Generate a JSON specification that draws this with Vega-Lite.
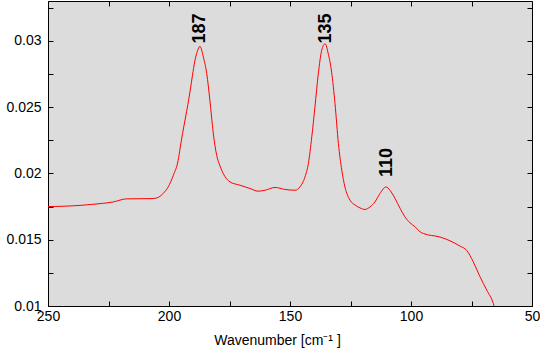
{
  "$schema": "https://vega.github.io/schema/vega-lite/v6.json",
  "autosize": "none",
  "padding": {"left": 48, "top": 1, "right": 8, "bottom": 47},
  "width": 484,
  "height": 305,
  "background": "white",
  "config": {
    "view": {"fill": "#dcdcdc", "stroke": "black", "strokeWidth": 1},
    "axis": {
      "domain": false,
      "grid": false,
      "ticks": true,
      "tickSize": -5,
      "tickColor": "black",
      "tickWidth": 1,
      "labelFont": "Liberation Sans",
      "labelFontSize": 14,
      "labelColor": "black",
      "labelFlush": false,
      "labelOverlap": false,
      "titleFont": "Liberation Sans",
      "titleFontSize": 14,
      "titleFontWeight": "normal",
      "titleColor": "black"
    }
  },
  "datasets": {
    "spectrum": [
      {"w": 250, "v": 0.0175},
      {"w": 240, "v": 0.01755},
      {"w": 232, "v": 0.01766},
      {"w": 223, "v": 0.01785},
      {"w": 217.5, "v": 0.01808},
      {"w": 207, "v": 0.0181},
      {"w": 205, "v": 0.01815},
      {"w": 202.4, "v": 0.01849},
      {"w": 200.3, "v": 0.01899},
      {"w": 198.2, "v": 0.01986},
      {"w": 196.2, "v": 0.021},
      {"w": 195.4, "v": 0.0219},
      {"w": 194.4, "v": 0.023},
      {"w": 193.3, "v": 0.0241},
      {"w": 192.2, "v": 0.0252},
      {"w": 191.2, "v": 0.0263},
      {"w": 190.3, "v": 0.0274},
      {"w": 189.4, "v": 0.0284},
      {"w": 188.3, "v": 0.0292},
      {"w": 187.2, "v": 0.02958},
      {"w": 185.8, "v": 0.02877},
      {"w": 184.4, "v": 0.02752},
      {"w": 183.1, "v": 0.02551},
      {"w": 181.7, "v": 0.02303},
      {"w": 180.3, "v": 0.02137},
      {"w": 178.9, "v": 0.02055},
      {"w": 177.6, "v": 0.01999},
      {"w": 174.8, "v": 0.01936},
      {"w": 170.7, "v": 0.01911},
      {"w": 166.5, "v": 0.01886},
      {"w": 163.2, "v": 0.01866},
      {"w": 160.3, "v": 0.01873},
      {"w": 156.2, "v": 0.01894},
      {"w": 152.1, "v": 0.01879},
      {"w": 147.9, "v": 0.01873},
      {"w": 145.9, "v": 0.01898},
      {"w": 143.8, "v": 0.01974},
      {"w": 142.4, "v": 0.02075},
      {"w": 141, "v": 0.02275},
      {"w": 139.7, "v": 0.025},
      {"w": 138.3, "v": 0.02752},
      {"w": 136.9, "v": 0.02928},
      {"w": 135.5, "v": 0.02978},
      {"w": 134.2, "v": 0.02903},
      {"w": 132.8, "v": 0.02764},
      {"w": 131.4, "v": 0.02526},
      {"w": 130, "v": 0.02225},
      {"w": 128.6, "v": 0.02024},
      {"w": 127.3, "v": 0.01898},
      {"w": 125.2, "v": 0.01798},
      {"w": 123.1, "v": 0.01761},
      {"w": 121.1, "v": 0.0174},
      {"w": 119, "v": 0.01728},
      {"w": 116.9, "v": 0.01748},
      {"w": 114.9, "v": 0.01785},
      {"w": 112.8, "v": 0.01849},
      {"w": 110.3, "v": 0.01898},
      {"w": 108.7, "v": 0.01873},
      {"w": 106.6, "v": 0.01811},
      {"w": 104.5, "v": 0.01736},
      {"w": 102.5, "v": 0.01672},
      {"w": 100.4, "v": 0.01627},
      {"w": 98.3, "v": 0.01597},
      {"w": 96.3, "v": 0.0156},
      {"w": 94.9, "v": 0.01547},
      {"w": 88, "v": 0.0152},
      {"w": 83.9, "v": 0.01492},
      {"w": 79.8, "v": 0.01452},
      {"w": 77, "v": 0.0142},
      {"w": 74.3, "v": 0.01334},
      {"w": 71.5, "v": 0.01221},
      {"w": 68.7, "v": 0.0112},
      {"w": 66, "v": 0.0102},
      {"w": 65.5, "v": 0.0099}
    ],
    "peaks": [
      {"w": 187, "v": 0.0298, "label": "187"},
      {"w": 135, "v": 0.0298, "label": "135"},
      {"w": 110, "v": 0.01973, "label": "110"}
    ]
  },
  "layer": [
    {
      "data": {"name": "spectrum"},
      "mark": {"type": "line", "color": "#ff0000", "strokeWidth": 1, "interpolate": "monotone", "clip": true},
      "encoding": {
        "x": {
          "field": "w", "type": "quantitative",
          "scale": {"domain": [50, 250], "reverse": true, "nice": false, "zero": false},
          "axis": {
            "orient": "bottom",
            "values": [250, 225, 200, 175, 150, 125, 100, 75, 50],
            "labelExpr": "datum.value % 50 == 0 ? datum.label : ''",
            "labelPadding": 8,
            "title": "Wavenumber [cm⁻¹ ]",
            "titlePadding": 10,
            "titleX": 229
          }
        },
        "y": {
          "field": "v", "type": "quantitative",
          "scale": {"domain": [0.01, 0.033], "nice": false, "zero": false},
          "axis": {
            "orient": "left",
            "values": [0.01, 0.0125, 0.015, 0.0175, 0.02, 0.0225, 0.025, 0.0275, 0.03, 0.0325],
            "format": "~g",
            "labelExpr": "round(datum.value * 2000) % 10 == 0 ? datum.label : ''",
            "labelPadding": 12,
            "title": null
          }
        }
      }
    },
    {
      "data": {"name": "peaks"},
      "mark": {"type": "text", "angle": 270, "align": "left", "baseline": "middle", "font": "Liberation Sans", "fontSize": 18, "fontWeight": "bold", "color": "black"},
      "encoding": {
        "x": {
          "field": "w", "type": "quantitative",
          "scale": {"domain": [50, 250], "reverse": true, "nice": false, "zero": false},
          "axis": {"orient": "top", "values": [250, 225, 200, 175, 150, 125, 100, 75, 50], "labels": false, "title": null}
        },
        "y": {
          "field": "v", "type": "quantitative",
          "scale": {"domain": [0.01, 0.033], "nice": false, "zero": false},
          "axis": {"orient": "right", "values": [0.01, 0.0125, 0.015, 0.0175, 0.02, 0.0225, 0.025, 0.0275, 0.03, 0.0325], "labels": false, "title": null}
        },
        "text": {"field": "label"}
      }
    }
  ]
}
